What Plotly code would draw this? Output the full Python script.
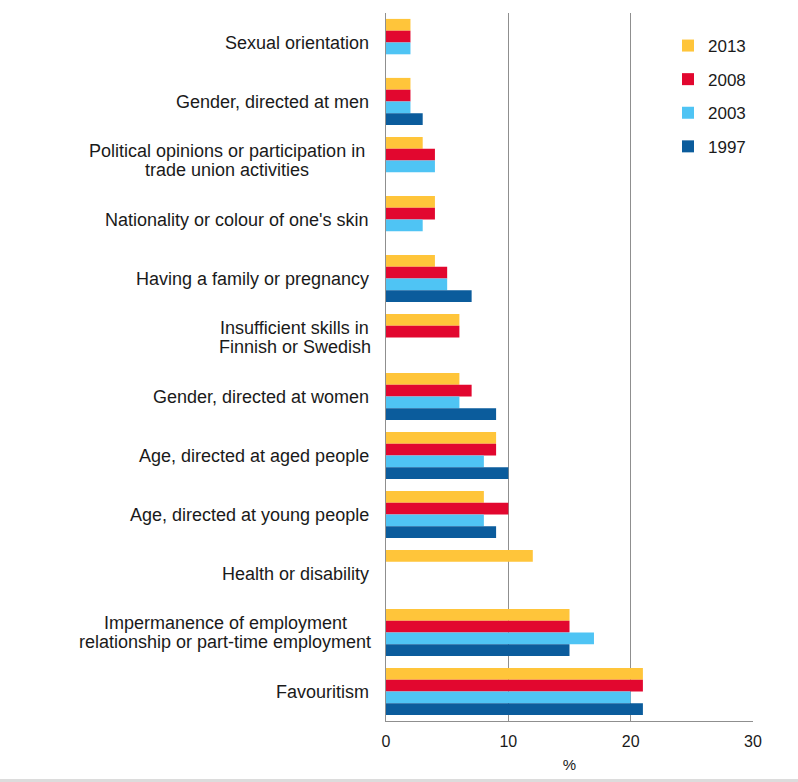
import plotly.graph_objects as go

categories = [
    "Sexual orientation",
    "Gender, directed at men",
    "Political opinions or participation in<br>trade union activities",
    "Nationality or colour of one's skin",
    "Having a family or pregnancy",
    "Insufficient skills in<br>Finnish or Swedish",
    "Gender, directed at women",
    "Age, directed at aged people",
    "Age, directed at young people",
    "Health or disability",
    "Impermanence of employment<br>relationship or part-time employment",
    "Favouritism",
]
series_names = ["2013", "2008", "2003", "1997"]
v2013 = [2, 2, 3, 4, 4, 6, 6, 9, 8, 12, 15, 21]
v2008 = [2, 2, 4, 4, 5, 6, 7, 9, 10, None, 15, 21]
v2003 = [2, 2, 4, 3, 5, None, 6, 8, 8, None, 17, 20]
v1997 = [None, 3, None, None, 7, None, 9, 10, 9, None, 15, 21]
series_values = [v2013, v2008, v2003, v1997]
colors = ["#FFC53A", "#E2072F", "#4FC4F4", "#0B5C9C"]
x_ticks = [0, 10, 20, 30]

# layout constants (pixels)
W, H = 798, 782
ML, MR, MT, MB = 386, 45, 13, 61
PW = W - ML - MR
PH = H - MT - MB
FONT = "Liberation Sans, Arial, sans-serif"
TXT = "#1a1a1a"
GRID = "#8f8f8f"

ykeys = [c.replace("<br>", " ") for c in categories]

fig = go.Figure()
for name, vals, col in zip(series_names, series_values, colors):
    fig.add_trace(go.Bar(
        y=ykeys, x=vals, name=name, orientation="h",
        marker=dict(color=col, line=dict(width=0)),
        legendgroup=name,
    ))

# category labels as annotations (to get tight, centered multi-line text)
label_right_px = 371
multi_center_px = {2: 226.5, 5: 294.5, 10: 225.0}
line_gap = 18.4
annotations = []
for i, (key, cat) in enumerate(zip(ykeys, categories)):
    lines = cat.split("<br>")
    if len(lines) == 1:
        annotations.append(dict(
            x=(label_right_px - ML) / PW, xref="paper", y=key, yref="y",
            text=cat, showarrow=False, xanchor="right", yanchor="middle",
            font=dict(family=FONT, size=18, color=TXT),
        ))
    else:
        cx = (multi_center_px[i] - ML) / PW
        n = len(lines)
        for j, ln in enumerate(lines):
            shift = ((n - 1) / 2 - j) * line_gap
            annotations.append(dict(
                x=cx, xref="paper", y=key, yref="y", yshift=shift,
                text=ln, showarrow=False, xanchor="center", yanchor="middle",
                font=dict(family=FONT, size=18, color=TXT),
            ))

fig.update_layout(
    width=W, height=H,
    margin=dict(l=ML, r=MR, t=MT, b=MB, pad=0),
    paper_bgcolor="white", plot_bgcolor="white",
    barmode="group", bargap=0.2, bargroupgap=0,
    font=dict(family=FONT, size=16, color=TXT),
    showlegend=True,
    legend=dict(
        x=(668 - ML) / PW, xanchor="left",
        y=1 - (28 - MT) / PH, yanchor="top",
        traceorder="grouped", tracegroupgap=8.5,
        font=dict(family=FONT, size=17, color=TXT),
        bgcolor="rgba(0,0,0,0)", borderwidth=0,
    ),
    xaxis=dict(
        range=[0, 30], tickvals=x_ticks, ticktext=[str(t) for t in x_ticks],
        showgrid=True, gridcolor=GRID, gridwidth=1,
        showline=True, linecolor=GRID, linewidth=1,
        zeroline=False,
        ticks="outside", ticklen=6, tickcolor="rgba(0,0,0,0)",
        tickfont=dict(family=FONT, size=16, color=TXT),
        title=dict(text="%", font=dict(family=FONT, size=15, color=TXT), standoff=10),
        fixedrange=True,
    ),
    yaxis=dict(
        categoryorder="array", categoryarray=ykeys,
        autorange="reversed",
        showticklabels=False, ticks="",
        showgrid=False, zeroline=False,
        showline=True, linecolor=GRID, linewidth=1,
        fixedrange=True,
    ),
    annotations=annotations,
    shapes=[dict(
        type="rect", xref="paper", yref="paper",
        x0=-ML / PW, x1=(W - ML) / PW,
        y0=-(779 - (H - MB)) / PH, y1=-(H + 5 - (H - MB)) / PH,
        fillcolor="#dcdcdc", line=dict(width=0), layer="above",
    )],
)

fig.write_html("out.html", config={"displayModeBar": False})
